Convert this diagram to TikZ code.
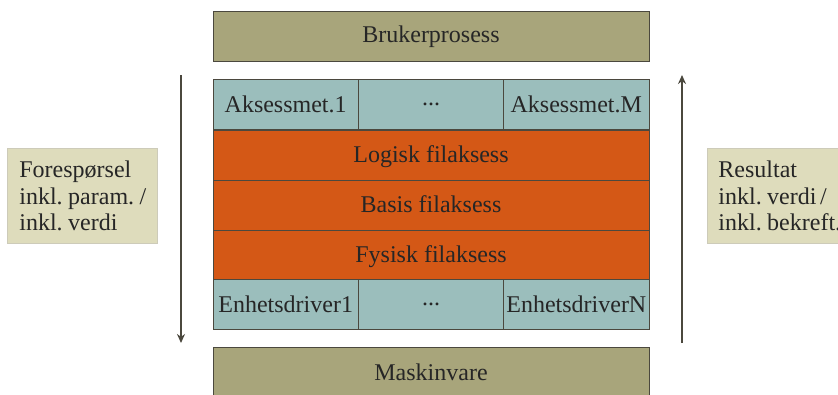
\documentclass[tikz,border=0pt]{standalone}
\usepackage{fontspec}
\setmainfont{Liberation Serif}
\usetikzlibrary{arrows.meta}
\definecolor{khaki}{RGB}{168,165,123}
\definecolor{teal}{RGB}{155,190,188}
\definecolor{rust}{RGB}{212,88,22}
\definecolor{note}{RGB}{222,220,188}
\definecolor{edge}{RGB}{75,72,62}
\definecolor{noteedge}{RGB}{205,203,185}
\newcommand{\notetext}[1]{\parbox[c]{138pt}{\spaceskip=3.5pt\relax #1}}
\tikzset{
  layer/.style={draw=edge, line width=0.9pt, inner sep=0pt, text=black!85,
    font=\fontsize{24}{26}\selectfont},
  hw/.style={layer, fill=khaki, minimum width=436pt, minimum height=49.5pt},
  cell/.style={layer, fill=teal, minimum width=145.33pt, minimum height=50pt},
  band/.style={layer, fill=rust, minimum width=436pt, minimum height=50pt,
    text depth=0pt, text height=15pt},
  notebox/.style={draw=noteedge, line width=0.8pt, fill=note, inner sep=0pt,
    anchor=north west, minimum height=95pt, minimum width=150pt, text=black!85,
    font=\fontsize{24}{26.7}\selectfont},
  flow/.style={draw=edge, line width=2pt, -{Stealth[length=9pt,width=8pt]}}
}
\begin{document}
\begin{tikzpicture}[x=1pt,y=-1pt]
\useasboundingbox (0,0) rectangle (838,394);
% user process and hardware
\node[hw] (bruker) at (431,36.5) {Brukerprosess};
\node[hw] (maskin) at (431,372) {Maskinvare};
% access methods row
\node[cell] (akt1) at (285.67,104.5) {Aksessmet.1};
\node[cell] (aktd) at (431,104.5) {...};
\node[cell] (aktm) at (576.33,104.5) {Aksessmet.M};
% file access layers
\node[band] (logisk) at (431,155) {Logisk filaksess};
\node[band] (basis) at (431,205) {Basis filaksess};
\node[band] (fysisk) at (431,255) {Fysisk filaksess};
% device drivers row
\node[cell] (drv1) at (285.67,304.5) {Enhetsdriver1};
\node[cell] (drvd) at (431,304.5) {...};
\node[cell] (drvn) at (576.33,304.5) {EnhetsdriverN};
% side notes
\node[notebox] (req) at (7,148)
  {\hspace{12pt}\notetext{Forespørsel\\inkl. param. /\\inkl. verdi}};
\node[notebox] (res) at (707,148)
  {\hspace{10pt}\notetext{Resultat\\inkl. verdi /\\inkl. bekreft.}};
% request and result flows
\coordinate (reqtop) at (181,75);
\coordinate (reqbot) at (181,343);
\coordinate (resbot) at (682,343);
\coordinate (restop) at (682,75);
\draw[flow] (reqtop) -- (reqbot);
\draw[flow] (resbot) -- (restop);
\end{tikzpicture}
\end{document}
